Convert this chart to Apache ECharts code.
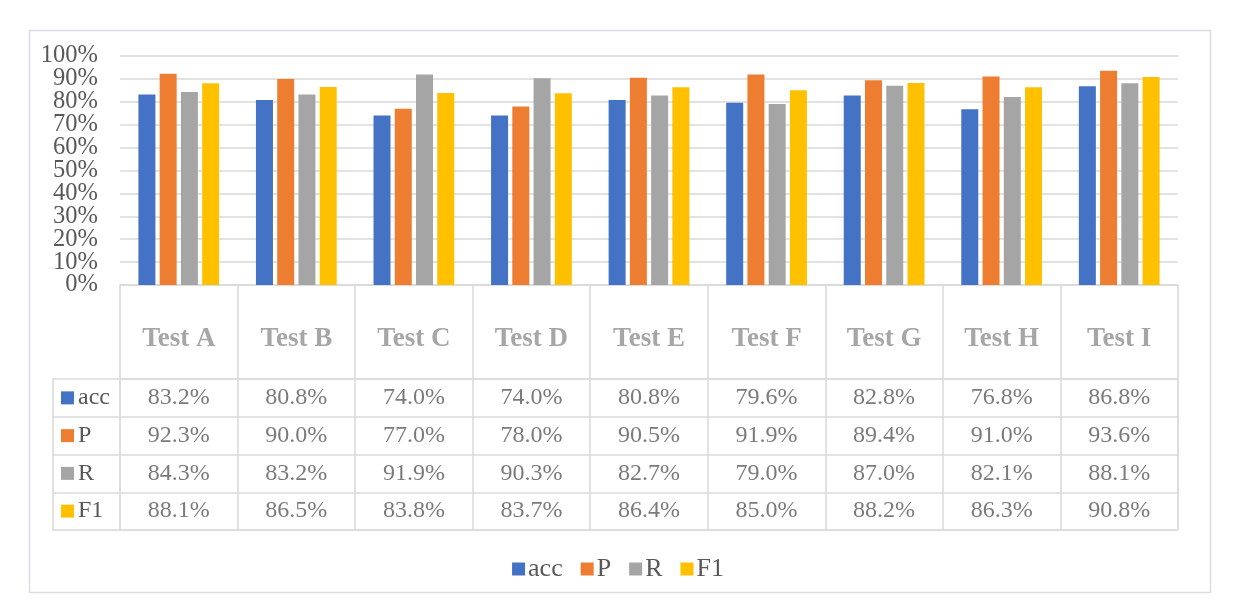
<!DOCTYPE html>
<html><head><meta charset="utf-8">
<script src="https://cdn.jsdelivr.net/npm/echarts@6/dist/echarts.min.js"></script>
<style>html,body{margin:0;padding:0;background:#fff}#c{width:1236px;height:616px}</style>
</head><body><div id="c"></div>
<script>
const categories = ['Test A','Test B','Test C','Test D','Test E','Test F','Test G','Test H','Test I'];
const seriesNames = ['acc','P','R','F1'];
const accValues = [83.2, 80.8, 74.0, 74.0, 80.8, 79.6, 82.8, 76.8, 86.8];
const pValues   = [92.3, 90.0, 77.0, 78.0, 90.5, 91.9, 89.4, 91.0, 93.6];
const rValues   = [84.3, 83.2, 91.9, 90.3, 82.7, 79.0, 87.0, 82.1, 88.1];
const f1Values  = [88.1, 86.5, 83.8, 83.7, 86.4, 85.0, 88.2, 86.3, 90.8];
const yTicks = {min: 0, max: 100, interval: 10};

const colors = ['#4472C4','#ED7D31','#A5A5A5','#FFC000'];
const allValues = [accValues, pValues, rValues, f1Values];
const FONT = "'Liberation Serif','Times New Roman',serif";
const LINE = '#D9D9D9';
const TXT = '#595959';

const chart = echarts.init(document.getElementById('c'), null, {renderer:'canvas'});

const rich = {t:{fontSize:24, fontFamily:FONT, color:TXT, padding:[0,0,0,4]}};
colors.forEach((c,i)=>{ rich['s'+i] = {width:13, height:13, backgroundColor:c}; });

const tableData = [];
allValues.forEach((arr, r) => arr.forEach((v, c) => tableData.push([c, r, v])));

const barSeries = seriesNames.map((n,i)=>({
  name:n, type:'bar', xAxisIndex:0, yAxisIndex:0, data: allValues[i],
  barWidth:17, barGap:'25%', itemStyle:{color:colors[i]}
}));

// two overlapping value axes (same scale) so tightly packed tick labels are not auto-hidden
function valueAxis(parity, withSplit){
  return {type:'value', gridIndex:0, min:yTicks.min, max:yTicks.max, interval:yTicks.interval, position:'left',
    axisLine:{show:false}, axisTick:{show:false},
    splitLine:{show:withSplit, lineStyle:{color:LINE, width:1.5}},
    axisLabel:{formatter:v=>((Math.round(v/yTicks.interval))%2===parity ? v+'%' : ''), margin:22,
      fontSize:24.5, fontFamily:FONT, color:TXT}};
}

chart.setOption({
  backgroundColor:'#fff',
  animation:false,
  color: colors,
  graphic:[{type:'rect', left:27, top:28, shape:{width:1181, height:562}, style:{fill:'none', stroke:'#DCDCE4', lineWidth:1.5}, silent:true}],
  legend:{
    data: seriesNames, bottom: 29, left:'center', icon:'rect', itemWidth:13, itemHeight:13, itemGap:18,
    textStyle:{fontSize:26, fontFamily:FONT, color:TXT, padding:[0,0,0,-2]}
  },
  grid:[
    {left:120, right:58, top:56, height:229, containLabel:false},
    {left:120, right:58, top:379, height:151, show:true, borderColor:LINE, borderWidth:1, backgroundColor:'transparent'}
  ],
  xAxis:[
    {type:'category', gridIndex:0, data:categories, boundaryGap:true,
     axisLine:{show:true, lineStyle:{color:LINE, width:1.5}},
     axisTick:{show:true, length:245, lineStyle:{color:LINE, width:1.5}},
     axisLabel:{margin:41, fontSize:27, fontWeight:'bold', fontFamily:FONT, color:'#A6A6A6'}},
    {type:'category', gridIndex:1, data:categories, boundaryGap:true,
     axisLine:{show:false}, axisTick:{show:false}, axisLabel:{show:false}, splitLine:{show:false}}
  ],
  yAxis:[
    valueAxis(0, true),
    {type:'category', gridIndex:1, data:seriesNames, inverse:true, offset:67, boundaryGap:true,
     axisLine:{show:true, lineStyle:{color:LINE, width:1.5}},
     axisTick:{show:true, inside:true, length:67, lineStyle:{color:LINE, width:1.5}},
     splitLine:{show:true, lineStyle:{color:LINE, width:1.5}},
     axisLabel:{inside:true, margin:8, align:'left', formatter:(v,i)=>'{s'+i+'|}{t|'+v+'}', rich:rich}},
    valueAxis(1, false)
  ],
  series: barSeries.concat([{
    type:'scatter', xAxisIndex:1, yAxisIndex:1, data:tableData, symbolSize:1,
    itemStyle:{color:'rgba(0,0,0,0)'}, silent:true,
    label:{show:true, position:'inside', formatter:p=>p.value[2].toFixed(1)+'%', fontSize:24, fontFamily:FONT, color:TXT}
  }, {
    type:'line', xAxisIndex:0, yAxisIndex:2, data:[], silent:true
  }])
});
</script></body></html>
